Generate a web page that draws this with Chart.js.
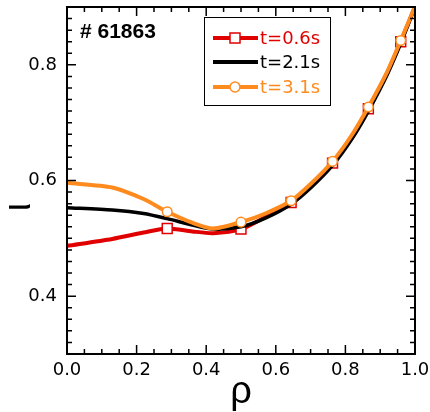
<!DOCTYPE html>
<html lang="en">
<head>
<meta charset="UTF-8">
<title>iota profile #61863</title>
<script src="https://cdn.jsdelivr.net/npm/chart.js"></script>
<style>
body { margin: 0; background: #fff; }
.wrap { width: 430px; height: 412px; }
</style>
</head>
<body>
<div class="wrap"><canvas id="iotaChart" width="430" height="412"></canvas></div>
<script>
// profile data
const rho    = [0, 0.13, 0.22, 0.288, 0.36, 0.42, 0.5, 0.57, 0.644, 0.70, 0.763, 0.82, 0.866, 0.92, 0.959, 1.0];
const iota06 = [0.487, 0.499, 0.510, 0.517, 0.512, 0.509, 0.516, 0.537, 0.562, 0.590, 0.630, 0.676, 0.724, 0.786, 0.840, 0.900];
const iota21 = [0.553, 0.549, 0.543, 0.534, 0.523, 0.516, 0.520, 0.535, 0.559, 0.587, 0.626, 0.673, 0.720, 0.783, 0.837, 0.901];
const iota31 = [0.596, 0.588, 0.568, 0.546, 0.527, 0.517, 0.528, 0.543, 0.565, 0.594, 0.633, 0.680, 0.727, 0.788, 0.842, 0.901];
const markerRho = [0.288, 0.5, 0.644, 0.763, 0.866, 0.959];
const seriesLabels = ['t=0.6s', 't=2.1s', 't=3.1s'];
const xTicks = [0, 0.2, 0.4, 0.6, 0.8, 1.0];
const yTicks = [0.4, 0.6, 0.8];
const shotLabel = '# 61863';

const RED = '#e00000';
const BLACK = '#000000';
const ORANGE = '#ff8b1e';

function pts(vals) {
    return rho.map((r, i) => ({ x: r, y: vals[i] }));
}
function markerSize(r) {
    return ctx => markerRho.includes(rho[ctx.dataIndex]) ? r : 0;
}

// box frame, inward ticks, legend and labels
const framePlugin = {
    id: 'frame',
    afterDraw(chart) {
        const c = chart.ctx;
        const a = chart.chartArea;
        const xs = chart.scales.x;
        const ys = chart.scales.y;
        c.save();
        c.strokeStyle = '#000';
        c.lineWidth = 2;
        c.strokeRect(a.left, a.top, a.right - a.left, a.bottom - a.top);

        c.lineWidth = 1.5;
        c.beginPath();
        for (let i = 0; i <= 20; i++) {
            const v = i * 0.05;
            const px = xs.getPixelForValue(v);
            const len = (i % 4 === 0) ? 9 : 5;
            c.moveTo(px, a.bottom); c.lineTo(px, a.bottom - len);
            c.moveTo(px, a.top); c.lineTo(px, a.top + len);
        }
        for (let i = 0; i <= 30; i++) {
            const v = 0.3 + i * 0.02;
            const py = ys.getPixelForValue(v);
            const len = (i % 10 === 5) ? 9 : 5;
            c.moveTo(a.left, py); c.lineTo(a.left + len, py);
            c.moveTo(a.right, py); c.lineTo(a.right - len, py);
        }
        c.stroke();

        // shot number
        c.fillStyle = '#000';
        c.font = 'bold 21px "Liberation Sans"';
        c.textBaseline = 'alphabetic';
        c.textAlign = 'left';
        c.fillText(shotLabel, a.left + 13, a.top + 31);

        // y title (iota)
        c.save();
        c.translate(20, a.top + 200);
        c.rotate(-Math.PI / 2);
        c.font = '38px "Liberation Sans"';
        c.textAlign = 'center';
        c.textBaseline = 'middle';
        c.fillText('\u03b9', 0, 0);
        c.restore();

        // legend
        const lx = a.left + 137, ly = a.top + 10;
        c.lineWidth = 1;
        c.strokeStyle = '#000';
        c.strokeRect(lx + 0.5, ly + 0.5, 126, 88);
        const colors = [RED, BLACK, ORANGE];
        const rows = [21, 45, 70];
        c.font = '18px "DejaVu Sans"';
        c.textBaseline = 'middle';
        colors.forEach((col, i) => {
            const y = ly + rows[i];
            c.strokeStyle = col;
            c.lineWidth = 4;
            c.beginPath();
            c.moveTo(lx + 9, y); c.lineTo(lx + 54, y);
            c.stroke();
            c.lineWidth = 1.5;
            c.fillStyle = '#fff';
            if (i === 0) {
                c.fillRect(lx + 26, y - 5, 10, 10);
                c.strokeRect(lx + 26, y - 5, 10, 10);
            } else if (i === 2) {
                c.beginPath();
                c.arc(lx + 31, y, 5, 0, Math.PI * 2);
                c.fill(); c.stroke();
            }
            c.fillStyle = col;
            c.fillText(seriesLabels[i], lx + 56, y + 1);
        });
        c.restore();
    }
};

const chart = new Chart(document.getElementById('iotaChart'), {
    type: 'line',
    data: {
        datasets: [
            {
                label: seriesLabels[0], data: pts(iota06),
                borderColor: RED, borderWidth: 4, tension: 0.25,
                pointStyle: 'rect', pointRadius: markerSize(7), pointBorderWidth: 1.5,
                pointBackgroundColor: '#fff', pointBorderColor: RED, order: 3
            },
            {
                label: seriesLabels[1], data: pts(iota21),
                borderColor: BLACK, borderWidth: 3.5, tension: 0.25,
                pointRadius: 0, order: 2
            },
            {
                label: seriesLabels[2], data: pts(iota31),
                borderColor: ORANGE, borderWidth: 4, tension: 0.25,
                pointStyle: 'circle', pointRadius: markerSize(4.8), pointBorderWidth: 1.5,
                pointBackgroundColor: '#fff', pointBorderColor: ORANGE, order: 1
            }
        ]
    },
    options: {
        responsive: false,
        animation: false,
        devicePixelRatio: 1,
        layout: { padding: { left: 28, top: 7, right: 15, bottom: 0 } },
        plugins: { legend: { display: false }, tooltip: { enabled: false } },
        scales: {
            x: {
                type: 'linear', min: 0, max: 1,
                afterBuildTicks: s => { s.ticks = xTicks.map(v => ({ value: v })); },
                afterFit: s => { s.height = 58; s.paddingLeft = 0; s.paddingRight = 0; },
                ticks: {
                    color: '#000', padding: 7, maxRotation: 0,
                    font: { family: 'DejaVu Sans', size: 18, lineHeight: 1 },
                    callback: v => v.toFixed(1)
                },
                grid: { display: false, drawTicks: false },
                border: { display: false },
                title: {
                    display: true, text: '\u03c1', color: '#000',
                    font: { family: 'Liberation Sans', size: 38, lineHeight: 1 },
                    padding: { top: -4, bottom: 0 }
                }
            },
            y: {
                type: 'linear', min: 0.3, max: 0.9,
                afterBuildTicks: s => { s.ticks = yTicks.map(v => ({ value: v })); },
                afterFit: s => { s.width = 39; s.paddingTop = 0; s.paddingBottom = 0; },
                ticks: {
                    color: '#000', padding: 10,
                    font: { family: 'DejaVu Sans', size: 18, lineHeight: 1 },
                    callback: v => v.toFixed(1)
                },
                grid: { display: false, drawTicks: false },
                border: { display: false }
            }
        }
    },
    plugins: [framePlugin]
});
</script>
</body>
</html>
